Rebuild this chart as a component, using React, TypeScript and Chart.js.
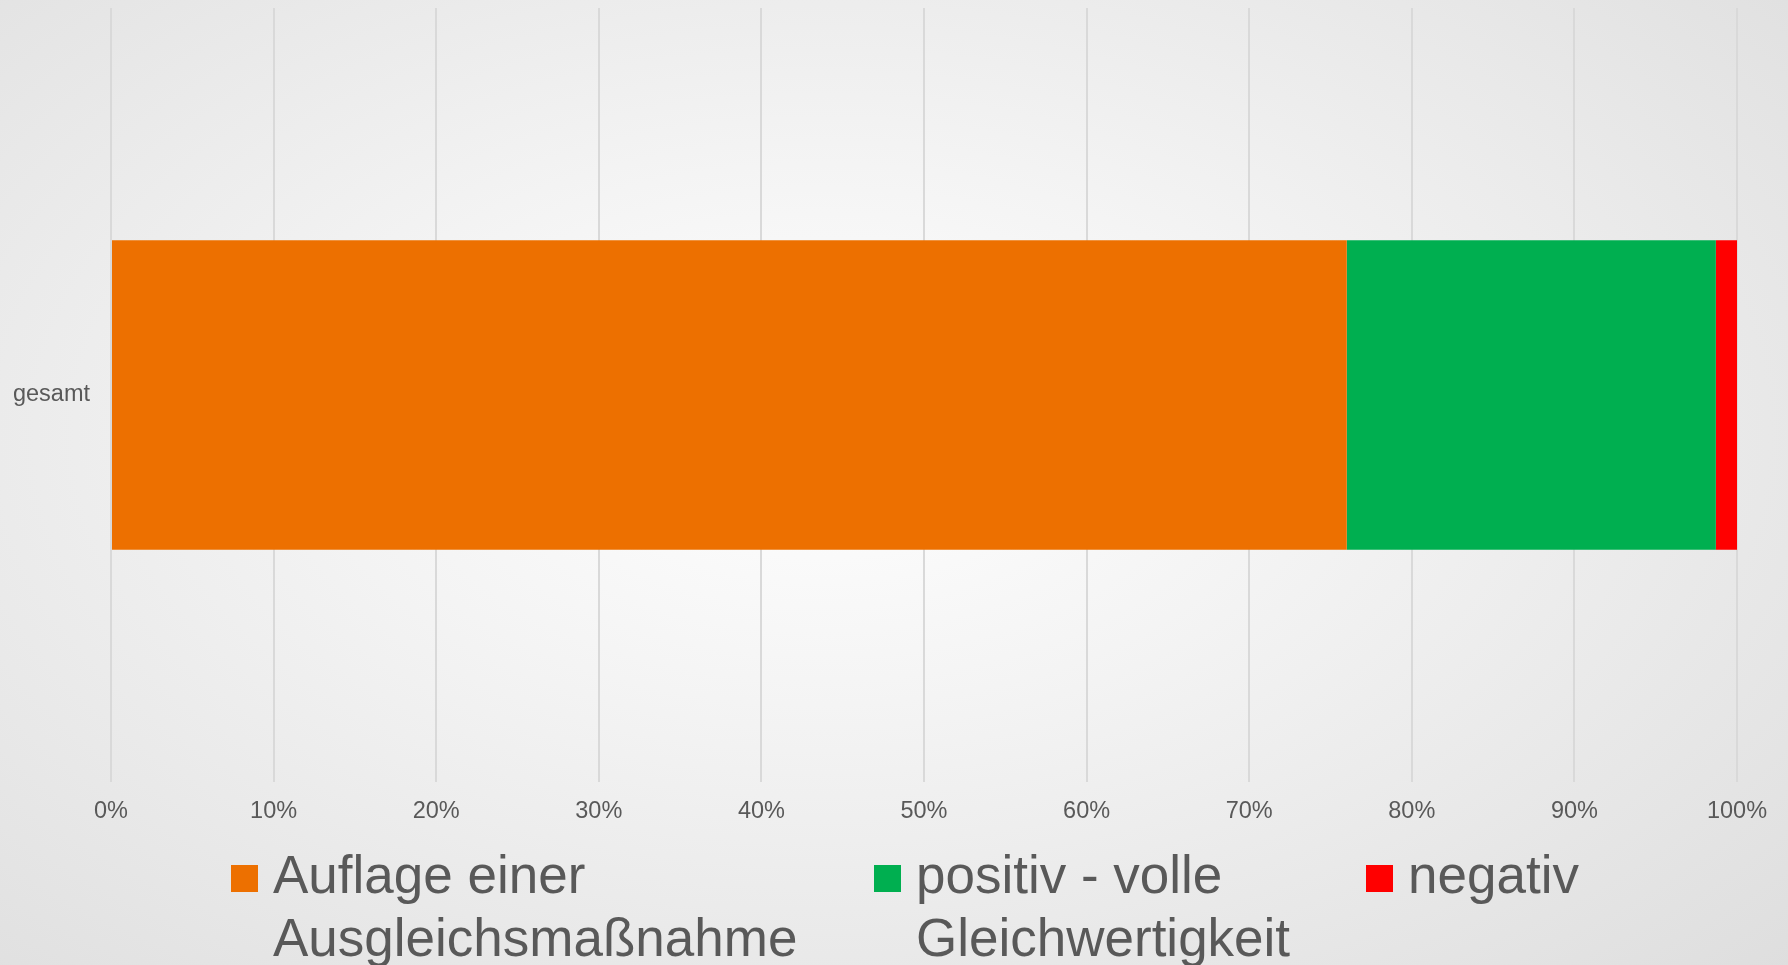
import React, { useEffect, useRef } from "react";
import { Chart, registerables } from "chart.js";

Chart.register(...registerables);

const categories = ["gesamt"];
const seriesNames = ["Auflage einer Ausgleichsmaßnahme", "positiv - volle Gleichwertigkeit", "negativ"];
const legendLines = [["Auflage einer", "Ausgleichsmaßnahme"], ["positiv - volle", "Gleichwertigkeit"], ["negativ"]];
const seriesColors = ["#ED7000", "#00AF50", "#FF0000"];
const auflageValues = [76.0];
const positivValues = [22.7];
const negativValues = [1.3];
const xTickValues = [0, 10, 20, 30, 40, 50, 60, 70, 80, 90, 100];

const FONT = "'Liberation Sans', Arial, Helvetica, sans-serif";
const TEXT_COLOR = "#595959";

const legendPlugin = {
  id: "customLegend",
  afterDraw(chart: any) {
    const ctx = chart.ctx;
    const itemX = [231, 874, 1366];
    const boxTop = 865;
    const boxSize = 27;
    const textOffset = 42;
    const baseline1 = 893;
    const lineGap = 63;
    ctx.save();
    ctx.font = `53px ${FONT}`;
    ctx.textBaseline = "alphabetic";
    ctx.textAlign = "left";
    chart.data.datasets.forEach((ds: any, i: number) => {
      const x = itemX[i];
      ctx.fillStyle = ds.backgroundColor;
      ctx.fillRect(x, boxTop, boxSize, boxSize);
      ctx.fillStyle = TEXT_COLOR;
      legendLines[i].forEach((line, j) => {
        ctx.fillText(line, x + textOffset, baseline1 + j * lineGap);
      });
    });
    ctx.restore();
  },
};

export default function App() {
  const canvasRef = useRef<HTMLCanvasElement | null>(null);

  useEffect(() => {
    const canvas = canvasRef.current;
    if (!canvas) return;
    const values = [auflageValues, positivValues, negativValues];
    const chart = new Chart(canvas, {
      type: "bar",
      data: {
        labels: categories,
        datasets: values.map((v, i) => ({
          label: seriesNames[i],
          data: v,
          backgroundColor: seriesColors[i],
          borderWidth: 0,
          barPercentage: 0.4,
          categoryPercentage: 1.0,
        })),
      },
      options: {
        indexAxis: "y",
        responsive: false,
        animation: false,
        layout: { padding: { top: 8, right: 51, bottom: 140, left: 0 } },
        plugins: {
          legend: { display: false },
          tooltip: { enabled: false },
        },
        scales: {
          x: {
            stacked: true,
            min: 0,
            max: 100,
            afterBuildTicks: (scale: any) => {
              scale.ticks = xTickValues.map((v) => ({ value: v }));
            },
            afterFit: (scale: any) => {
              scale.height = 43;
            },
            grid: { color: "#d9d9d9", lineWidth: 2, drawTicks: false },
            border: { display: false },
            ticks: {
              padding: 15,
              color: TEXT_COLOR,
              font: { family: FONT, size: 23.5 },
              callback: (v: any) => `${v}%`,
              maxRotation: 0,
              autoSkip: false,
            },
          },
          y: {
            stacked: true,
            afterFit: (scale: any) => {
              scale.width = 111;
              scale.paddingTop = 0;
              scale.paddingBottom = 0;
            },
            grid: { display: false, drawTicks: false },
            border: { display: false },
            ticks: {
              padding: 21,
              color: TEXT_COLOR,
              font: { family: FONT, size: 23.5 },
            },
          },
        },
      },
      plugins: [legendPlugin],
    } as any);
    return () => chart.destroy();
  }, []);

  return (
    <div
      style={{
        position: "fixed",
        left: 0,
        top: 0,
        width: 1788,
        height: 965,
        background:
          "radial-gradient(ellipse 75% 80% at 46% 45%, #ffffff 0%, #f4f4f4 35%, #dedede 100%)",
      }}
    >
      <canvas ref={canvasRef} width={1788} height={965} style={{ display: "block" }} />
    </div>
  );
}
